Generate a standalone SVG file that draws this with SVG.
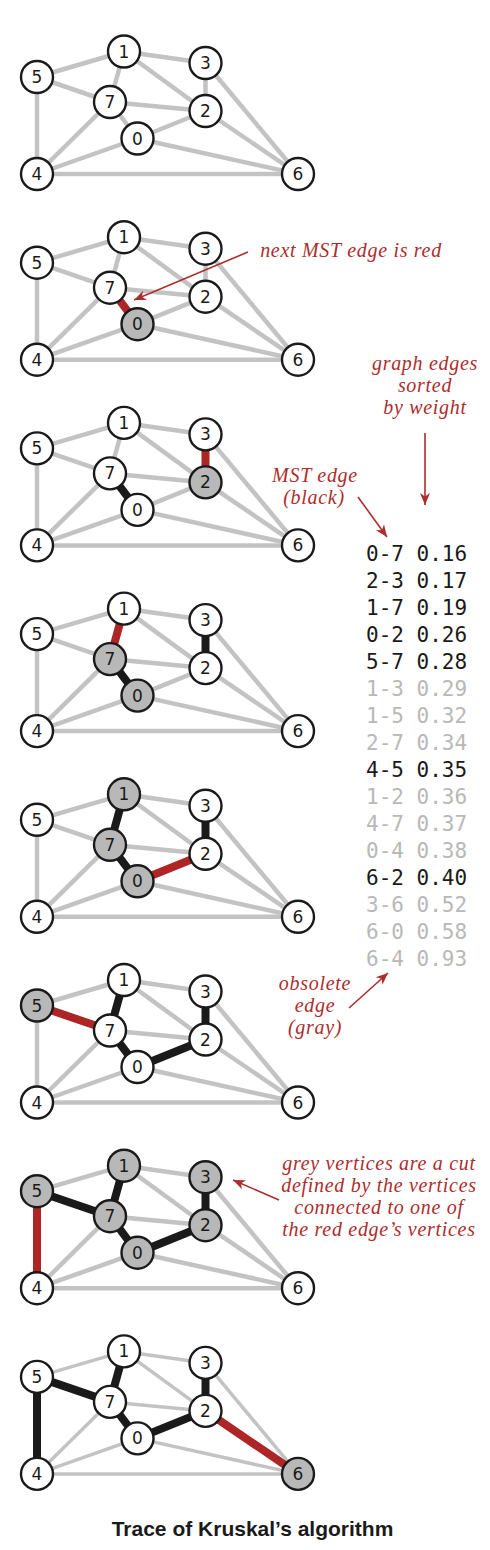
<svg xmlns="http://www.w3.org/2000/svg" width="490" height="1550" viewBox="0 0 490 1550">
<style>
.g{stroke:#c3c3c3;stroke-width:4.5;stroke-linecap:butt}
.k{stroke:#1a1a1a;stroke-width:8}
.r{stroke:#ad2525;stroke-width:8}
.thin .g{stroke-width:3.5}
.n circle{fill:#fff;stroke:#1a1a1a;stroke-width:2.4}
.n.s circle{fill:#b8b8b8}
.n text{font-family:"DejaVu Sans",sans-serif;font-size:17px;fill:#1a1a1a;text-anchor:middle}
.ann{font-family:"Liberation Serif",serif;font-style:italic;font-size:20px;letter-spacing:0.7px;fill:#ad2d2d;text-anchor:middle}
.arr{stroke:#ad2d2d;stroke-width:1.6;fill:none;marker-end:url(#ah)}
.tb{font-family:"DejaVu Sans Mono",monospace;font-size:21px}
.tb .b{fill:#1a1a1a}
.tb .o{fill:#b8b8b8}
.title{font-family:"Liberation Sans",sans-serif;font-weight:bold;font-size:21px;fill:#1a1a1a;text-anchor:middle}
</style>
<defs>
<marker id="ah" markerUnits="userSpaceOnUse" markerWidth="14" markerHeight="12" viewBox="-12 -6 14 12" refX="0" refY="0" orient="auto">
<path d="M0,0 L-12,-5 L-8.5,0 L-12,5 z" fill="#ad2d2d"/>
</marker>
</defs>

<!-- Graph 1 -->
<g id="graph1" transform="translate(0,0)">
<g id="g1-edges">
<line class="g" x1="137.5" y1="138.5" x2="110" y2="102"/>
<line class="g" x1="205.5" y1="111" x2="205.5" y2="63"/>
<line class="g" x1="124" y1="51.5" x2="110" y2="102"/>
<line class="g" x1="137.5" y1="138.5" x2="205.5" y2="111"/>
<line class="g" x1="37" y1="77" x2="110" y2="102"/>
<line class="g" x1="124" y1="51.5" x2="205.5" y2="63"/>
<line class="g" x1="124" y1="51.5" x2="37" y2="77"/>
<line class="g" x1="205.5" y1="111" x2="110" y2="102"/>
<line class="g" x1="37" y1="174" x2="37" y2="77"/>
<line class="g" x1="124" y1="51.5" x2="205.5" y2="111"/>
<line class="g" x1="37" y1="174" x2="110" y2="102"/>
<line class="g" x1="137.5" y1="138.5" x2="37" y2="174"/>
<line class="g" x1="298" y1="174" x2="205.5" y2="111"/>
<line class="g" x1="205.5" y1="63" x2="298" y2="174"/>
<line class="g" x1="298" y1="174" x2="137.5" y2="138.5"/>
<line class="g" x1="298" y1="174" x2="37" y2="174"/>
</g>
<g id="g1-n0" class="n"><circle cx="137.5" cy="138.5" r="16"/><text x="137.5" y="144.5">0</text></g>
<g id="g1-n1" class="n"><circle cx="124" cy="51.5" r="16"/><text x="124" y="57.5">1</text></g>
<g id="g1-n2" class="n"><circle cx="205.5" cy="111" r="16"/><text x="205.5" y="117">2</text></g>
<g id="g1-n3" class="n"><circle cx="205.5" cy="63" r="16"/><text x="205.5" y="69">3</text></g>
<g id="g1-n4" class="n"><circle cx="37" cy="174" r="16"/><text x="37" y="180">4</text></g>
<g id="g1-n5" class="n"><circle cx="37" cy="77" r="16"/><text x="37" y="83">5</text></g>
<g id="g1-n6" class="n"><circle cx="298" cy="174" r="16"/><text x="298" y="180">6</text></g>
<g id="g1-n7" class="n"><circle cx="110" cy="102" r="16"/><text x="110" y="108">7</text></g>
</g>

<!-- Graph 2 -->
<g id="graph2" transform="translate(0,185.7)">
<g id="g2-edges">
<line class="g" x1="205.5" y1="111" x2="205.5" y2="63"/>
<line class="g" x1="124" y1="51.5" x2="110" y2="102"/>
<line class="g" x1="137.5" y1="138.5" x2="205.5" y2="111"/>
<line class="g" x1="37" y1="77" x2="110" y2="102"/>
<line class="g" x1="124" y1="51.5" x2="205.5" y2="63"/>
<line class="g" x1="124" y1="51.5" x2="37" y2="77"/>
<line class="g" x1="205.5" y1="111" x2="110" y2="102"/>
<line class="g" x1="37" y1="174" x2="37" y2="77"/>
<line class="g" x1="124" y1="51.5" x2="205.5" y2="111"/>
<line class="g" x1="37" y1="174" x2="110" y2="102"/>
<line class="g" x1="137.5" y1="138.5" x2="37" y2="174"/>
<line class="g" x1="298" y1="174" x2="205.5" y2="111"/>
<line class="g" x1="205.5" y1="63" x2="298" y2="174"/>
<line class="g" x1="298" y1="174" x2="137.5" y2="138.5"/>
<line class="g" x1="298" y1="174" x2="37" y2="174"/>
<line class="r" x1="137.5" y1="138.5" x2="110" y2="102"/>
</g>
<g id="g2-n0" class="n s"><circle cx="137.5" cy="138.5" r="16"/><text x="137.5" y="144.5">0</text></g>
<g id="g2-n1" class="n"><circle cx="124" cy="51.5" r="16"/><text x="124" y="57.5">1</text></g>
<g id="g2-n2" class="n"><circle cx="205.5" cy="111" r="16"/><text x="205.5" y="117">2</text></g>
<g id="g2-n3" class="n"><circle cx="205.5" cy="63" r="16"/><text x="205.5" y="69">3</text></g>
<g id="g2-n4" class="n"><circle cx="37" cy="174" r="16"/><text x="37" y="180">4</text></g>
<g id="g2-n5" class="n"><circle cx="37" cy="77" r="16"/><text x="37" y="83">5</text></g>
<g id="g2-n6" class="n"><circle cx="298" cy="174" r="16"/><text x="298" y="180">6</text></g>
<g id="g2-n7" class="n"><circle cx="110" cy="102" r="16"/><text x="110" y="108">7</text></g>
</g>

<!-- Graph 3 -->
<g id="graph3" transform="translate(0,371.4)">
<g id="g3-edges">
<line class="g" x1="124" y1="51.5" x2="110" y2="102"/>
<line class="g" x1="137.5" y1="138.5" x2="205.5" y2="111"/>
<line class="g" x1="37" y1="77" x2="110" y2="102"/>
<line class="g" x1="124" y1="51.5" x2="205.5" y2="63"/>
<line class="g" x1="124" y1="51.5" x2="37" y2="77"/>
<line class="g" x1="205.5" y1="111" x2="110" y2="102"/>
<line class="g" x1="37" y1="174" x2="37" y2="77"/>
<line class="g" x1="124" y1="51.5" x2="205.5" y2="111"/>
<line class="g" x1="37" y1="174" x2="110" y2="102"/>
<line class="g" x1="137.5" y1="138.5" x2="37" y2="174"/>
<line class="g" x1="298" y1="174" x2="205.5" y2="111"/>
<line class="g" x1="205.5" y1="63" x2="298" y2="174"/>
<line class="g" x1="298" y1="174" x2="137.5" y2="138.5"/>
<line class="g" x1="298" y1="174" x2="37" y2="174"/>
<line class="k" x1="137.5" y1="138.5" x2="110" y2="102"/>
<line class="r" x1="205.5" y1="111" x2="205.5" y2="63"/>
</g>
<g id="g3-n0" class="n"><circle cx="137.5" cy="138.5" r="16"/><text x="137.5" y="144.5">0</text></g>
<g id="g3-n1" class="n"><circle cx="124" cy="51.5" r="16"/><text x="124" y="57.5">1</text></g>
<g id="g3-n2" class="n s"><circle cx="205.5" cy="111" r="16"/><text x="205.5" y="117">2</text></g>
<g id="g3-n3" class="n"><circle cx="205.5" cy="63" r="16"/><text x="205.5" y="69">3</text></g>
<g id="g3-n4" class="n"><circle cx="37" cy="174" r="16"/><text x="37" y="180">4</text></g>
<g id="g3-n5" class="n"><circle cx="37" cy="77" r="16"/><text x="37" y="83">5</text></g>
<g id="g3-n6" class="n"><circle cx="298" cy="174" r="16"/><text x="298" y="180">6</text></g>
<g id="g3-n7" class="n"><circle cx="110" cy="102" r="16"/><text x="110" y="108">7</text></g>
</g>

<!-- Graph 4 -->
<g id="graph4" transform="translate(0,557.1)">
<g id="g4-edges">
<line class="g" x1="137.5" y1="138.5" x2="205.5" y2="111"/>
<line class="g" x1="37" y1="77" x2="110" y2="102"/>
<line class="g" x1="124" y1="51.5" x2="205.5" y2="63"/>
<line class="g" x1="124" y1="51.5" x2="37" y2="77"/>
<line class="g" x1="205.5" y1="111" x2="110" y2="102"/>
<line class="g" x1="37" y1="174" x2="37" y2="77"/>
<line class="g" x1="124" y1="51.5" x2="205.5" y2="111"/>
<line class="g" x1="37" y1="174" x2="110" y2="102"/>
<line class="g" x1="137.5" y1="138.5" x2="37" y2="174"/>
<line class="g" x1="298" y1="174" x2="205.5" y2="111"/>
<line class="g" x1="205.5" y1="63" x2="298" y2="174"/>
<line class="g" x1="298" y1="174" x2="137.5" y2="138.5"/>
<line class="g" x1="298" y1="174" x2="37" y2="174"/>
<line class="k" x1="137.5" y1="138.5" x2="110" y2="102"/>
<line class="k" x1="205.5" y1="111" x2="205.5" y2="63"/>
<line class="r" x1="124" y1="51.5" x2="110" y2="102"/>
</g>
<g id="g4-n0" class="n s"><circle cx="137.5" cy="138.5" r="16"/><text x="137.5" y="144.5">0</text></g>
<g id="g4-n1" class="n"><circle cx="124" cy="51.5" r="16"/><text x="124" y="57.5">1</text></g>
<g id="g4-n2" class="n"><circle cx="205.5" cy="111" r="16"/><text x="205.5" y="117">2</text></g>
<g id="g4-n3" class="n"><circle cx="205.5" cy="63" r="16"/><text x="205.5" y="69">3</text></g>
<g id="g4-n4" class="n"><circle cx="37" cy="174" r="16"/><text x="37" y="180">4</text></g>
<g id="g4-n5" class="n"><circle cx="37" cy="77" r="16"/><text x="37" y="83">5</text></g>
<g id="g4-n6" class="n"><circle cx="298" cy="174" r="16"/><text x="298" y="180">6</text></g>
<g id="g4-n7" class="n s"><circle cx="110" cy="102" r="16"/><text x="110" y="108">7</text></g>
</g>

<!-- Graph 5 -->
<g id="graph5" transform="translate(0,742.8)">
<g id="g5-edges">
<line class="g" x1="37" y1="77" x2="110" y2="102"/>
<line class="g" x1="124" y1="51.5" x2="205.5" y2="63"/>
<line class="g" x1="124" y1="51.5" x2="37" y2="77"/>
<line class="g" x1="205.5" y1="111" x2="110" y2="102"/>
<line class="g" x1="37" y1="174" x2="37" y2="77"/>
<line class="g" x1="124" y1="51.5" x2="205.5" y2="111"/>
<line class="g" x1="37" y1="174" x2="110" y2="102"/>
<line class="g" x1="137.5" y1="138.5" x2="37" y2="174"/>
<line class="g" x1="298" y1="174" x2="205.5" y2="111"/>
<line class="g" x1="205.5" y1="63" x2="298" y2="174"/>
<line class="g" x1="298" y1="174" x2="137.5" y2="138.5"/>
<line class="g" x1="298" y1="174" x2="37" y2="174"/>
<line class="k" x1="137.5" y1="138.5" x2="110" y2="102"/>
<line class="k" x1="205.5" y1="111" x2="205.5" y2="63"/>
<line class="k" x1="124" y1="51.5" x2="110" y2="102"/>
<line class="r" x1="137.5" y1="138.5" x2="205.5" y2="111"/>
</g>
<g id="g5-n0" class="n s"><circle cx="137.5" cy="138.5" r="16"/><text x="137.5" y="144.5">0</text></g>
<g id="g5-n1" class="n s"><circle cx="124" cy="51.5" r="16"/><text x="124" y="57.5">1</text></g>
<g id="g5-n2" class="n"><circle cx="205.5" cy="111" r="16"/><text x="205.5" y="117">2</text></g>
<g id="g5-n3" class="n"><circle cx="205.5" cy="63" r="16"/><text x="205.5" y="69">3</text></g>
<g id="g5-n4" class="n"><circle cx="37" cy="174" r="16"/><text x="37" y="180">4</text></g>
<g id="g5-n5" class="n"><circle cx="37" cy="77" r="16"/><text x="37" y="83">5</text></g>
<g id="g5-n6" class="n"><circle cx="298" cy="174" r="16"/><text x="298" y="180">6</text></g>
<g id="g5-n7" class="n s"><circle cx="110" cy="102" r="16"/><text x="110" y="108">7</text></g>
</g>

<!-- Graph 6 -->
<g id="graph6" transform="translate(0,928.5)">
<g id="g6-edges">
<line class="g" x1="124" y1="51.5" x2="205.5" y2="63"/>
<line class="g" x1="124" y1="51.5" x2="37" y2="77"/>
<line class="g" x1="205.5" y1="111" x2="110" y2="102"/>
<line class="g" x1="37" y1="174" x2="37" y2="77"/>
<line class="g" x1="124" y1="51.5" x2="205.5" y2="111"/>
<line class="g" x1="37" y1="174" x2="110" y2="102"/>
<line class="g" x1="137.5" y1="138.5" x2="37" y2="174"/>
<line class="g" x1="298" y1="174" x2="205.5" y2="111"/>
<line class="g" x1="205.5" y1="63" x2="298" y2="174"/>
<line class="g" x1="298" y1="174" x2="137.5" y2="138.5"/>
<line class="g" x1="298" y1="174" x2="37" y2="174"/>
<line class="k" x1="137.5" y1="138.5" x2="110" y2="102"/>
<line class="k" x1="205.5" y1="111" x2="205.5" y2="63"/>
<line class="k" x1="124" y1="51.5" x2="110" y2="102"/>
<line class="k" x1="137.5" y1="138.5" x2="205.5" y2="111"/>
<line class="r" x1="37" y1="77" x2="110" y2="102"/>
</g>
<g id="g6-n0" class="n"><circle cx="137.5" cy="138.5" r="16"/><text x="137.5" y="144.5">0</text></g>
<g id="g6-n1" class="n"><circle cx="124" cy="51.5" r="16"/><text x="124" y="57.5">1</text></g>
<g id="g6-n2" class="n"><circle cx="205.5" cy="111" r="16"/><text x="205.5" y="117">2</text></g>
<g id="g6-n3" class="n"><circle cx="205.5" cy="63" r="16"/><text x="205.5" y="69">3</text></g>
<g id="g6-n4" class="n"><circle cx="37" cy="174" r="16"/><text x="37" y="180">4</text></g>
<g id="g6-n5" class="n s"><circle cx="37" cy="77" r="16"/><text x="37" y="83">5</text></g>
<g id="g6-n6" class="n"><circle cx="298" cy="174" r="16"/><text x="298" y="180">6</text></g>
<g id="g6-n7" class="n"><circle cx="110" cy="102" r="16"/><text x="110" y="108">7</text></g>
</g>

<!-- Graph 7 -->
<g id="graph7" transform="translate(0,1114.2)">
<g id="g7-edges">
<line class="g" x1="124" y1="51.5" x2="205.5" y2="63"/>
<line class="g" x1="124" y1="51.5" x2="37" y2="77"/>
<line class="g" x1="205.5" y1="111" x2="110" y2="102"/>
<line class="g" x1="124" y1="51.5" x2="205.5" y2="111"/>
<line class="g" x1="37" y1="174" x2="110" y2="102"/>
<line class="g" x1="137.5" y1="138.5" x2="37" y2="174"/>
<line class="g" x1="298" y1="174" x2="205.5" y2="111"/>
<line class="g" x1="205.5" y1="63" x2="298" y2="174"/>
<line class="g" x1="298" y1="174" x2="137.5" y2="138.5"/>
<line class="g" x1="298" y1="174" x2="37" y2="174"/>
<line class="k" x1="137.5" y1="138.5" x2="110" y2="102"/>
<line class="k" x1="205.5" y1="111" x2="205.5" y2="63"/>
<line class="k" x1="124" y1="51.5" x2="110" y2="102"/>
<line class="k" x1="137.5" y1="138.5" x2="205.5" y2="111"/>
<line class="k" x1="37" y1="77" x2="110" y2="102"/>
<line class="r" x1="37" y1="174" x2="37" y2="77"/>
</g>
<g id="g7-n0" class="n s"><circle cx="137.5" cy="138.5" r="16"/><text x="137.5" y="144.5">0</text></g>
<g id="g7-n1" class="n s"><circle cx="124" cy="51.5" r="16"/><text x="124" y="57.5">1</text></g>
<g id="g7-n2" class="n s"><circle cx="205.5" cy="111" r="16"/><text x="205.5" y="117">2</text></g>
<g id="g7-n3" class="n s"><circle cx="205.5" cy="63" r="16"/><text x="205.5" y="69">3</text></g>
<g id="g7-n4" class="n"><circle cx="37" cy="174" r="16"/><text x="37" y="180">4</text></g>
<g id="g7-n5" class="n s"><circle cx="37" cy="77" r="16"/><text x="37" y="83">5</text></g>
<g id="g7-n6" class="n"><circle cx="298" cy="174" r="16"/><text x="298" y="180">6</text></g>
<g id="g7-n7" class="n s"><circle cx="110" cy="102" r="16"/><text x="110" y="108">7</text></g>
</g>

<!-- Graph 8 -->
<g id="graph8" class="thin" transform="translate(0,1299.9)">
<g id="g8-edges">
<line class="g" x1="124" y1="51.5" x2="205.5" y2="63"/>
<line class="g" x1="124" y1="51.5" x2="37" y2="77"/>
<line class="g" x1="205.5" y1="111" x2="110" y2="102"/>
<line class="g" x1="124" y1="51.5" x2="205.5" y2="111"/>
<line class="g" x1="37" y1="174" x2="110" y2="102"/>
<line class="g" x1="137.5" y1="138.5" x2="37" y2="174"/>
<line class="g" x1="205.5" y1="63" x2="298" y2="174"/>
<line class="g" x1="298" y1="174" x2="137.5" y2="138.5"/>
<line class="g" x1="298" y1="174" x2="37" y2="174"/>
<line class="k" x1="137.5" y1="138.5" x2="110" y2="102"/>
<line class="k" x1="205.5" y1="111" x2="205.5" y2="63"/>
<line class="k" x1="124" y1="51.5" x2="110" y2="102"/>
<line class="k" x1="137.5" y1="138.5" x2="205.5" y2="111"/>
<line class="k" x1="37" y1="77" x2="110" y2="102"/>
<line class="k" x1="37" y1="174" x2="37" y2="77"/>
<line class="r" x1="298" y1="174" x2="205.5" y2="111"/>
</g>
<g id="g8-n0" class="n"><circle cx="137.5" cy="138.5" r="16"/><text x="137.5" y="144.5">0</text></g>
<g id="g8-n1" class="n"><circle cx="124" cy="51.5" r="16"/><text x="124" y="57.5">1</text></g>
<g id="g8-n2" class="n"><circle cx="205.5" cy="111" r="16"/><text x="205.5" y="117">2</text></g>
<g id="g8-n3" class="n"><circle cx="205.5" cy="63" r="16"/><text x="205.5" y="69">3</text></g>
<g id="g8-n4" class="n"><circle cx="37" cy="174" r="16"/><text x="37" y="180">4</text></g>
<g id="g8-n5" class="n"><circle cx="37" cy="77" r="16"/><text x="37" y="83">5</text></g>
<g id="g8-n6" class="n s"><circle cx="298" cy="174" r="16"/><text x="298" y="180">6</text></g>
<g id="g8-n7" class="n"><circle cx="110" cy="102" r="16"/><text x="110" y="108">7</text></g>
</g>

<!-- Annotations -->
<g id="annotations">
<text class="ann" x="351" y="257">next MST edge is red</text>
<text class="ann" x="425" y="370">graph edges</text>
<text class="ann" x="425" y="392">sorted</text>
<text class="ann" x="425" y="414">by weight</text>
<text class="ann" x="315" y="482">MST edge</text>
<text class="ann" x="314" y="504">(black)</text>
<text class="ann" x="315" y="990">obsolete</text>
<text class="ann" x="315" y="1012">edge</text>
<text class="ann" x="315" y="1034">(gray)</text>
<text class="ann" x="379" y="1170">grey vertices are a cut</text>
<text class="ann" x="379" y="1192">defined by the vertices</text>
<text class="ann" x="379" y="1214">connected to one of</text>
<text class="ann" x="379" y="1236">the red edge’s vertices</text>
</g>
<g id="connectors">
<line class="arr" x1="248" y1="252" x2="134" y2="300"/>
<line class="arr" x1="425" y1="433" x2="425" y2="505"/>
<line class="arr" x1="358" y1="497" x2="387" y2="537"/>
<line class="arr" x1="349" y1="1008" x2="388" y2="973"/>
<line class="arr" x1="279" y1="1200" x2="233" y2="1180"/>
</g>

<!-- Edge table -->
<g id="edge-table" class="tb">
<text class="b" x="366" y="561">0-7 0.16</text>
<text class="b" x="366" y="588">2-3 0.17</text>
<text class="b" x="366" y="615">1-7 0.19</text>
<text class="b" x="366" y="642">0-2 0.26</text>
<text class="b" x="366" y="669">5-7 0.28</text>
<text class="o" x="366" y="696">1-3 0.29</text>
<text class="o" x="366" y="723">1-5 0.32</text>
<text class="o" x="366" y="750">2-7 0.34</text>
<text class="b" x="366" y="777">4-5 0.35</text>
<text class="o" x="366" y="804">1-2 0.36</text>
<text class="o" x="366" y="831">4-7 0.37</text>
<text class="o" x="366" y="858">0-4 0.38</text>
<text class="b" x="366" y="885">6-2 0.40</text>
<text class="o" x="366" y="912">3-6 0.52</text>
<text class="o" x="366" y="939">6-0 0.58</text>
<text class="o" x="366" y="966">6-4 0.93</text>
</g>

<text class="title" x="252.5" y="1536">Trace of Kruskal’s algorithm</text>
</svg>
